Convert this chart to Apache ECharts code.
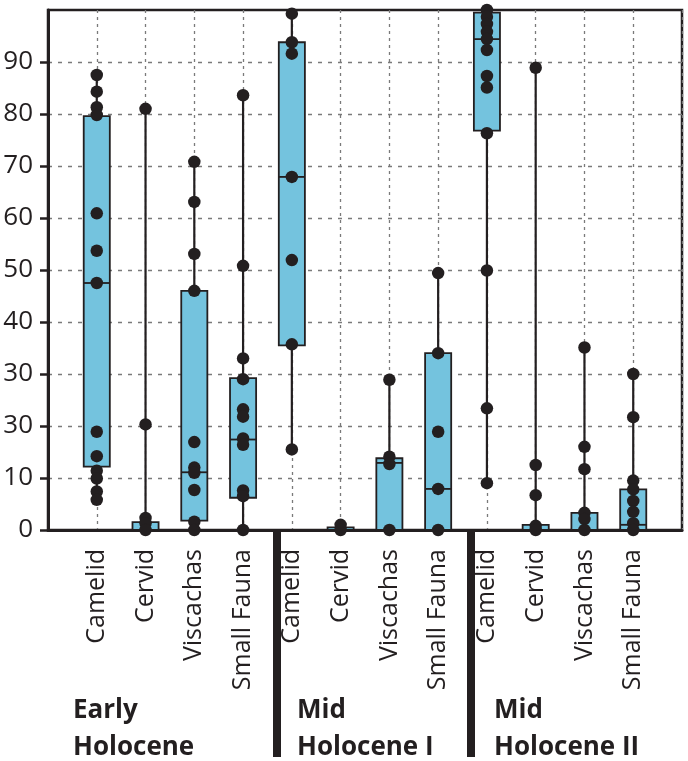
<!DOCTYPE html>
<html>
<head>
<meta charset="utf-8">
<script src="https://cdn.jsdelivr.net/npm/echarts@6/dist/echarts.min.js"></script>
<style>
  html, body { margin: 0; padding: 0; background: #ffffff; }
  #chart { width: 688px; height: 761px; }
</style>
</head>
<body>
<div id="chart"></div>
<script>
// ---- data ----
const categories = ['Camelid', 'Cervid', 'Viscachas', 'Small Fauna',
                    'Camelid', 'Cervid', 'Viscachas', 'Small Fauna',
                    'Camelid', 'Cervid', 'Viscachas', 'Small Fauna'];
const groupTitles = ['Early\nHolocene', 'Mid\nHolocene I', 'Mid\nHolocene II'];
const yTickValues = [0, 10, 20, 30, 40, 50, 60, 70, 80, 90];
const yTickLabels = ['0', '10', '30', '30', '40', '50', '60', '70', '80', '90'];

const whiskerLow  = [5.8, 0, 0, 0,    15.5, 0, 0, 0,     9.0, 0, 0, 0];
const boxQ1       = [12.2, 0, 1.8, 6.2, 35.5, 0, 0, 0,   76.8, 0, 0, 0];
const boxMedian   = [47.5, 0, 11.1, 17.4, 67.9, 0, 12.9, 7.9, 94.4, 0, 0, 1.0];
const boxQ3       = [79.6, 1.5, 46.0, 29.2, 93.8, 0.5, 13.8, 34.0, 99.5, 1.0, 3.3, 7.8];
const whiskerHigh = [87.5, 81.0, 70.8, 83.6, 99.3, 1.0, 28.9, 49.4, 100, 88.9, 35.1, 30.0];

const pointsEarlyCamelid    = [87.5, 84.3, 81.3, 79.8, 60.9, 53.7, 47.5, 18.9, 14.2, 11.4, 9.9, 7.4, 5.8];
const pointsEarlyCervid     = [81.0, 20.3, 2.3, 1.3, 0];
const pointsEarlyViscachas  = [70.8, 63.1, 53.1, 46.0, 16.9, 12.0, 11.0, 7.7, 1.6, 0];
const pointsEarlySmallFauna = [83.6, 50.8, 33.0, 29.0, 23.2, 21.8, 17.6, 16.4, 7.6, 6.5, 0];
const pointsMid1Camelid     = [99.3, 93.8, 91.6, 67.9, 51.9, 35.7, 15.5];
const pointsMid1Cervid      = [1.0, 0];
const pointsMid1Viscachas   = [28.9, 14.1, 12.7, 0];
const pointsMid1SmallFauna  = [49.4, 34.0, 18.9, 7.9, 0];
const pointsMid2Camelid     = [100, 98.7, 97.3, 95.8, 94.4, 92.3, 87.3, 85.1, 76.3, 49.9, 23.4, 9.0];
const pointsMid2Cervid      = [88.9, 12.5, 6.7, 0.8, 0];
const pointsMid2Viscachas   = [35.1, 16.0, 11.7, 3.3, 2.1, 0];
const pointsMid2SmallFauna  = [30.0, 21.7, 9.5, 7.8, 5.6, 3.5, 1.3, 0];

const pointsByCategory = [
  pointsEarlyCamelid, pointsEarlyCervid, pointsEarlyViscachas, pointsEarlySmallFauna,
  pointsMid1Camelid, pointsMid1Cervid, pointsMid1Viscachas, pointsMid1SmallFauna,
  pointsMid2Camelid, pointsMid2Cervid, pointsMid2Viscachas, pointsMid2SmallFauna
];

// ---- build library inputs ----
const boxData = categories.map((c, i) => [i, whiskerLow[i], boxQ1[i], boxMedian[i], boxQ3[i], whiskerHigh[i]]);
const pointData = [];
pointsByCategory.forEach((arr, i) => arr.forEach(v => pointData.push([i, v])));

const INK = '#231f20';
const FILL = '#74c3de';
const FONT = 'Open Sans';

const chart = echarts.init(document.getElementById('chart'), null, { renderer: 'canvas' });

const option = {
  backgroundColor: '#ffffff',
  animation: false,
  grid: { left: 48, right: 6, top: 10, bottom: 231, show: true, borderColor: INK, borderWidth: 2.5, backgroundColor: 'transparent' },
  xAxis: {
    type: 'value', min: -1, max: 12, interval: 1,
    axisLine: { show: true, onZero: false, lineStyle: { color: INK, width: 3 } },
    axisTick: { show: false },
    axisLabel: {
      customValues: categories.map((c, i) => i),
      formatter: v => categories[v] || '',
      rotate: 90, margin: 19, fontSize: 25, color: INK, fontFamily: FONT
    },
    splitLine: { show: true, lineStyle: { color: '#7a7a7a', width: 1.3, type: [3, 4] } }
  },
  yAxis: {
    type: 'value', min: 0, max: 100, interval: 10,
    axisLine: { show: true, onZero: false, lineStyle: { color: INK, width: 3 } },
    axisTick: { show: true, inside: false, length: 8, customValues: yTickValues, lineStyle: { color: INK, width: 2.5 } },
    axisLabel: {
      customValues: yTickValues,
      formatter: v => yTickLabels[yTickValues.indexOf(v)],
      margin: 15, fontSize: 26, color: INK, fontFamily: FONT
    },
    splitLine: { show: true, lineStyle: { color: '#7a7a7a', width: 1.3, type: [4, 6] } }
  },
  series: [
    {
      type: 'custom',
      clip: false,
      data: boxData,
      encode: { x: 0, y: [1, 2, 3, 4, 5] },
      z: 3,
      renderItem: function (params, api) {
        const x = api.value(0);
        const lo = api.coord([x, api.value(1)]);
        const q1 = api.coord([x, api.value(2)]);
        const md = api.coord([x, api.value(3)]);
        const q3 = api.coord([x, api.value(4)]);
        const hi = api.coord([x, api.value(5)]);
        const w = api.size([1, 0])[0] * 0.535;
        return {
          type: 'group',
          children: [
            { type: 'line', shape: { x1: lo[0], y1: lo[1], x2: hi[0], y2: hi[1] }, style: { stroke: INK, lineWidth: 2.2 } },
            { type: 'rect', shape: { x: q3[0] - w / 2, y: q3[1], width: w, height: q1[1] - q3[1] }, style: { fill: FILL, stroke: INK, lineWidth: 1.8 } },
            { type: 'line', shape: { x1: md[0] - w / 2, y1: md[1], x2: md[0] + w / 2, y2: md[1] }, style: { stroke: INK, lineWidth: 1.8 } }
          ]
        };
      }
    },
    {
      type: 'scatter',
      clip: false,
      data: pointData,
      symbol: 'circle',
      symbolSize: 12.5,
      itemStyle: { color: INK, opacity: 1 },
      z: 5
    }
  ],
  graphic: [
    { type: 'rect', left: 273, top: 530, shape: { width: 8, height: 227 }, style: { fill: INK } },
    { type: 'rect', left: 467, top: 530, shape: { width: 8, height: 227 }, style: { fill: INK } },
    { type: 'text', left: 73, top: 692, style: { text: groupTitles[0], fontSize: 26, fontWeight: 'bold', fontFamily: FONT, fill: INK, lineHeight: 37 } },
    { type: 'text', left: 297, top: 692, style: { text: groupTitles[1], fontSize: 26, fontWeight: 'bold', fontFamily: FONT, fill: INK, lineHeight: 37 } },
    { type: 'text', left: 494, top: 692, style: { text: groupTitles[2], fontSize: 26, fontWeight: 'bold', fontFamily: FONT, fill: INK, lineHeight: 37 } }
  ]
};

chart.setOption(option);
</script>
</body>
</html>
